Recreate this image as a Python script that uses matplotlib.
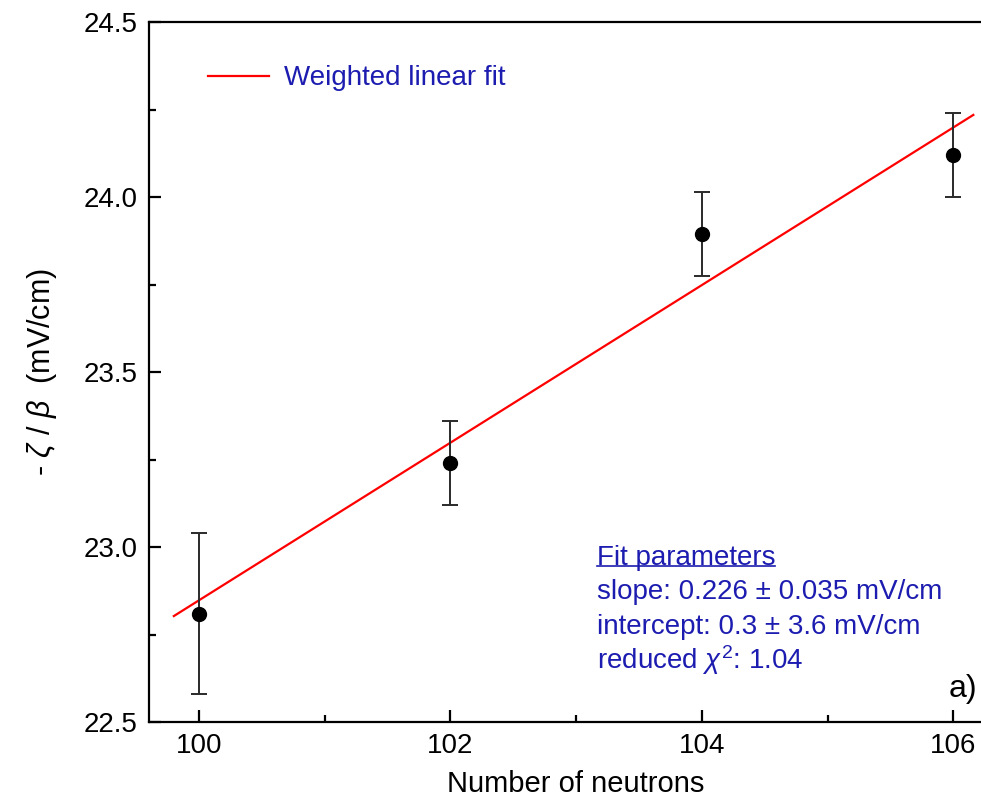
"""Weighted linear fit of -zeta/beta against neutron number."""

import matplotlib
matplotlib.use("Agg")
import matplotlib.pyplot as plt
import numpy as np
from matplotlib.lines import Line2D
from matplotlib.ticker import MultipleLocator

plt.rcParams["font.family"] = ["Liberation Sans", "DejaVu Sans"]
plt.rcParams["mathtext.fontset"] = "custom"
plt.rcParams["mathtext.rm"] = "Liberation Sans"
plt.rcParams["mathtext.it"] = "Liberation Sans:italic"

# data
neutrons = np.array([100, 102, 104, 106])
zeta_beta = np.array([22.81, 23.24, 23.895, 24.12])
zeta_err = np.array([0.23, 0.12, 0.12, 0.12])

fit_range = (99.8, 106.16)
fit_lines = [
    "slope: 0.226 \u00b1 0.035 mV/cm",
    "intercept: 0.3 \u00b1 3.6 mV/cm",
    r"reduced $\chi^2$: 1.04",
]

BLUE = "#1c1cb0"
FS = 20

fig = plt.figure(figsize=(9.81, 7.99), dpi=100)
ax = fig.add_axes([148.7 / 981, 77 / 799, 854.8 / 981, 700 / 799])

# weighted linear fit
slope, intercept = np.polyfit(neutrons, zeta_beta, 1, w=1 / zeta_err)
xf = np.array(fit_range)
ax.plot(xf, slope * xf + intercept, color="red", lw=1.6, label="Weighted linear fit")

ax.errorbar(neutrons, zeta_beta, yerr=zeta_err, fmt="o", color="black",
            ms=10, ecolor="#2a2a2a", elinewidth=1.4, capsize=5.5, capthick=1.4)

ax.set_xlim(99.6, 106.4)
ax.set_ylim(22.5, 24.5)
ax.xaxis.set_major_locator(MultipleLocator(2))
ax.xaxis.set_minor_locator(MultipleLocator(1))
ax.yaxis.set_major_locator(MultipleLocator(0.5))
ax.yaxis.set_minor_locator(MultipleLocator(0.25))
ax.yaxis.set_major_formatter(plt.FormatStrFormatter("%.1f"))
ax.tick_params(which="both", direction="in", width=1.6, labelsize=FS)
ax.tick_params(which="major", length=8.5)
ax.tick_params(which="minor", length=5)
ax.tick_params(axis="x", pad=8)
ax.tick_params(axis="y", pad=8)
for s in ax.spines.values():
    s.set_linewidth(1.6)

ax.set_xlabel("Number of neutrons", fontsize=21, labelpad=8)
ax.set_ylabel(r"- $\zeta\ /\ \beta$  (mV/cm)", fontsize=22, labelpad=18)

leg = ax.legend(loc="upper left", bbox_to_anchor=(0.0695, 0.938), frameon=False,
                fontsize=FS, handlelength=2.2, handletextpad=0.55,
                borderpad=0, borderaxespad=0, labelcolor=BLUE)

# fit parameter box
title = ax.text(103.166, 22.949, "Fit parameters", color=BLUE, fontsize=FS, va="baseline")
for i, line in enumerate(fit_lines):
    ax.text(103.166, 22.852 - i * 0.1, line, color=BLUE, fontsize=FS, va="baseline")

ax.text(105.965, 22.571, "a)", fontsize=23, va="baseline")

# underline the heading
fig.canvas.draw()
bb = title.get_window_extent().transformed(fig.transFigure.inverted())
yline = bb.y0 + 0.2 * bb.height
fig.add_artist(Line2D([bb.x0, bb.x1], [yline, yline], color=BLUE, lw=1.2,
                      transform=fig.transFigure))

fig.savefig("out.png", dpi=100)
